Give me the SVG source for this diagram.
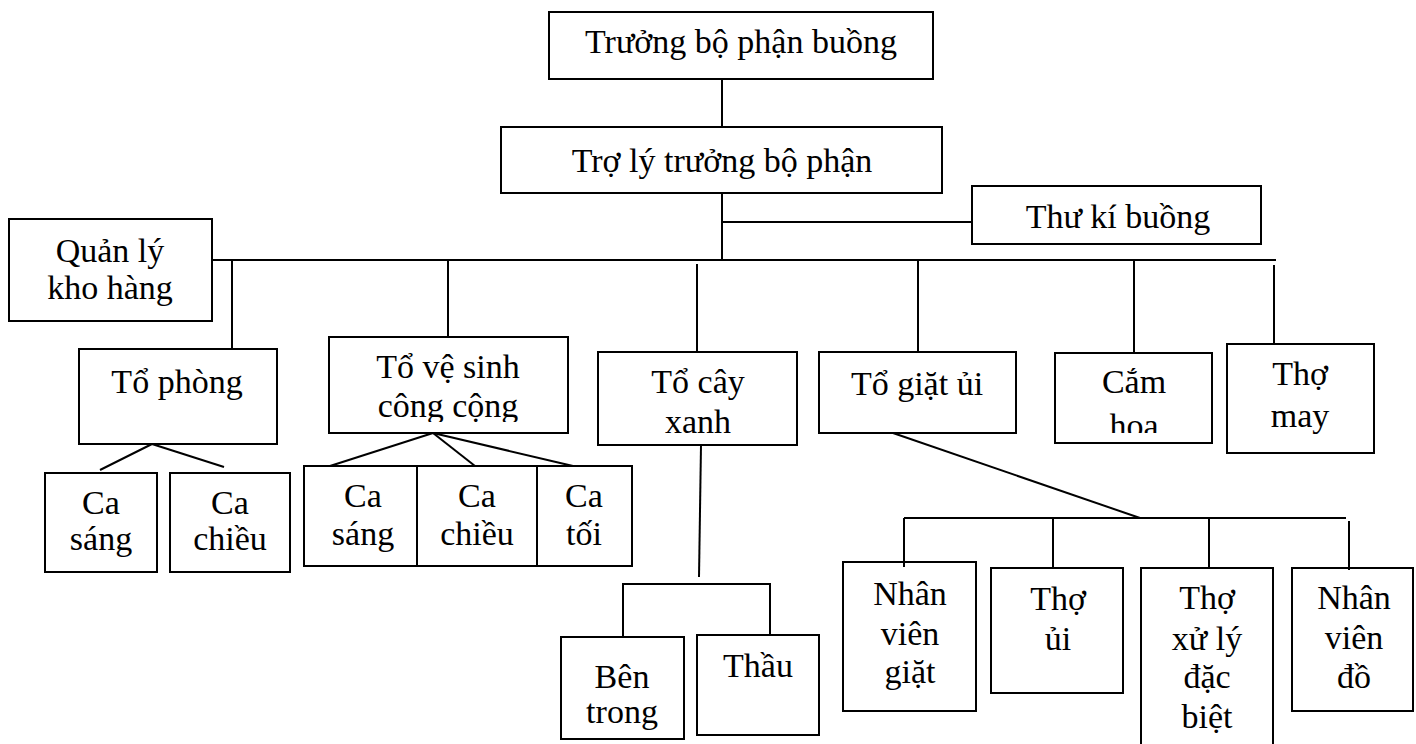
<svg xmlns="http://www.w3.org/2000/svg" width="1416" height="744" viewBox="0 0 1416 744">
<style>
.box{fill:#fff;stroke:#000;stroke-width:2}
.t{font-family:"Liberation Serif","Times New Roman",serif;font-size:34px;text-anchor:middle;fill:#000}
.ln{stroke:#000;stroke-width:2;fill:none}
</style>
<defs>
<clipPath id="clipVS"><rect x="329" y="337" width="239" height="85"/></clipPath>
<clipPath id="clipCH"><rect x="1055" y="353" width="157" height="80"/></clipPath>
</defs>
<rect width="1416" height="744" fill="#fff"/>
<g id="n-truong"><rect class="box" x="549" y="12" width="384" height="67"/><text class="t" x="741" y="53">Trưởng bộ phận buồng</text></g>
<g id="n-troly"><rect class="box" x="501" y="127" width="441" height="66"/><text class="t" x="722" y="172">Trợ lý trưởng bộ phận</text></g>
<g id="n-thuki"><rect class="box" x="972" y="186" width="289" height="58"/><text class="t" x="1118" y="228">Thư kí buồng</text></g>
<g id="n-quanly"><rect class="box" x="9" y="219" width="203" height="102"/><text class="t" x="110" y="262">Quản lý</text><text class="t" x="110" y="299">kho hàng</text></g>
<g id="n-tophong"><rect class="box" x="79" y="349" width="198" height="95"/><text class="t" x="177" y="393">Tổ phòng</text></g>
<g id="n-tovesinh"><rect class="box" x="329" y="337" width="239" height="96"/><g clip-path="url(#clipVS)"><text class="t" x="448" y="378">Tổ vệ sinh</text><text class="t" x="448" y="417">công cộng</text></g></g>
<g id="n-tocayxanh"><rect class="box" x="598" y="352" width="199" height="93"/><text class="t" x="698" y="393">Tổ cây</text><text class="t" x="698" y="433">xanh</text></g>
<g id="n-togiatui"><rect class="box" x="819" y="352" width="197" height="81"/><text class="t" x="917" y="395">Tổ giặt ủi</text></g>
<g id="n-camhoa"><rect class="box" x="1055" y="353" width="157" height="90"/><g clip-path="url(#clipCH)"><text class="t" x="1134" y="393">Cắm</text><text class="t" x="1134" y="437">hoa</text></g></g>
<g id="n-thomay"><rect class="box" x="1227" y="344" width="147" height="109"/><text class="t" x="1300" y="385">Thợ</text><text class="t" x="1300" y="427">may</text></g>
<g id="n-ca1-sang"><rect class="box" x="45" y="473" width="112" height="99"/><text class="t" x="101" y="514">Ca</text><text class="t" x="101" y="550">sáng</text></g>
<g id="n-ca1-chieu"><rect class="box" x="170" y="473" width="120" height="99"/><text class="t" x="230" y="514">Ca</text><text class="t" x="230" y="550">chiều</text></g>
<g id="n-ca2-sang"><rect class="box" x="304" y="466" width="113" height="100"/><text class="t" x="363" y="507">Ca</text><text class="t" x="363" y="545">sáng</text></g>
<g id="n-ca2-chieu"><rect class="box" x="417" y="466" width="120" height="100"/><text class="t" x="477" y="507">Ca</text><text class="t" x="477" y="545">chiều</text></g>
<g id="n-ca2-toi"><rect class="box" x="537" y="466" width="95" height="100"/><text class="t" x="584" y="507">Ca</text><text class="t" x="584" y="545">tối</text></g>
<g id="n-bentrong"><rect class="box" x="561" y="637" width="123" height="102"/><text class="t" x="622" y="688">Bên</text><text class="t" x="622" y="723">trong</text></g>
<g id="n-thau"><rect class="box" x="697" y="635" width="122" height="100"/><text class="t" x="758" y="677">Thầu</text></g>
<g id="n-nvgiat"><rect class="box" x="843" y="562" width="133" height="149"/><text class="t" x="910" y="605">Nhân</text><text class="t" x="910" y="645">viên</text><text class="t" x="910" y="683">giặt</text></g>
<g id="n-thoui"><rect class="box" x="991" y="568" width="132" height="125"/><text class="t" x="1058" y="610">Thợ</text><text class="t" x="1058" y="650">ủi</text></g>
<g id="n-thoxuly"><rect class="box" x="1141" y="568" width="132" height="200"/><text class="t" x="1207" y="609">Thợ</text><text class="t" x="1207" y="650">xử lý</text><text class="t" x="1207" y="688">đặc</text><text class="t" x="1207" y="728">biệt</text></g>
<g id="n-nvdo"><rect class="box" x="1292" y="568" width="121" height="143"/><text class="t" x="1354" y="609">Nhân</text><text class="t" x="1354" y="649">viên</text><text class="t" x="1354" y="688">đồ</text></g>
<g id="connectors" class="ln">
<line x1="722" y1="79" x2="722" y2="127"/>
<line x1="722" y1="193" x2="722" y2="260"/>
<line x1="722" y1="222" x2="972" y2="222"/>
<line x1="212" y1="260" x2="1276" y2="260"/>
<line x1="232" y1="260" x2="232" y2="349"/>
<line x1="448" y1="260" x2="448" y2="337"/>
<line x1="697" y1="264" x2="697" y2="352"/>
<line x1="918" y1="260" x2="918" y2="352"/>
<line x1="1134" y1="260" x2="1134" y2="353"/>
<line x1="1274" y1="265" x2="1274" y2="344"/>
<line x1="152" y1="444" x2="100" y2="470"/>
<line x1="152" y1="444" x2="224" y2="467"/>
<line x1="433" y1="433" x2="330" y2="466"/>
<line x1="433" y1="433" x2="475" y2="466"/>
<line x1="433" y1="433" x2="573" y2="466"/>
<line x1="701" y1="445" x2="699" y2="577"/>
<polyline points="623,637 623,584 770,584 770,635"/>
<line x1="893" y1="433" x2="1140" y2="518"/>
<line x1="904" y1="518" x2="1346" y2="518"/>
<line x1="904" y1="518" x2="904" y2="567"/>
<line x1="1053" y1="518" x2="1053" y2="568"/>
<line x1="1209" y1="518" x2="1209" y2="568"/>
<line x1="1349" y1="521" x2="1349" y2="570"/>
</g>
</svg>
